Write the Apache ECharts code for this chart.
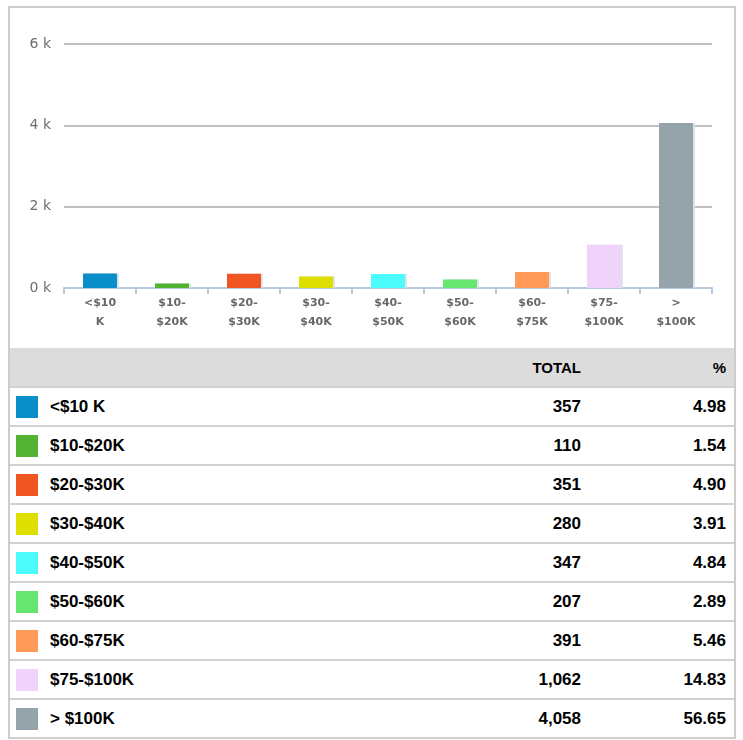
<!DOCTYPE html>
<html>
<head>
<meta charset="utf-8">
<script src="https://cdn.jsdelivr.net/npm/echarts@6/dist/echarts.min.js"></script>
<style>
    body {
        margin: 0;
        background: #ffffff;
    }
    .box {
        position: absolute;
        left: 8px;
        top: 6px;
        width: 724px;
        border: 2px solid #cfcdca;
        border-bottom: none;
    }
    .chart-container {
        width: 724px;
        height: 340px;
    }
    table {
        width: 100%;
        border-collapse: collapse;
        font-family: "Liberation Sans", Arial, sans-serif;
        font-weight: bold;
        font-size: 17px;
        color: #000;
    }
    th, td {
        height: 37px;
        padding: 0;
        border-bottom: 2px solid #d4d1cd;
    }
    thead th {
        background: #dcdcdc;
        font-size: 15px;
        height: 38px;
        border-bottom: 2px solid #d4d1cd;
    }
    .num {
        text-align: right;
    }
    .total {
        width: 160px;
        padding-right: 0;
    }
    .pct {
        width: 145px;
        padding-right: 8px;
    }
    .name {
        text-align: left;
    }
    .swatch {
        display: inline-block;
        width: 22px;
        height: 22px;
        margin: 0 12px 0 6px;
        vertical-align: middle;
    }
    .name span.txt {
        vertical-align: middle;
    }
</style>
</head>
<body>
<div class="box">
    <div class="chart-container" id="chart"></div>
    <table>
        <thead>
            <tr><th></th><th class="num total">TOTAL</th><th class="num pct">%</th></tr>
        </thead>
        <tbody id="rows"></tbody>
    </table>
</div>
<script>
const categories = ['<$10 K', '$10-$20K', '$20-$30K', '$30-$40K', '$40-$50K', '$50-$60K', '$60-$75K', '$75-$100K', '> $100K'];
const axisLabels = ['<$10\nK', '$10-\n$20K', '$20-\n$30K', '$30-\n$40K', '$40-\n$50K', '$50-\n$60K', '$60-\n$75K', '$75-\n$100K', '>\n$100K'];
const totals = [357, 110, 351, 280, 347, 207, 391, 1062, 4058];
const percents = ['4.98', '1.54', '4.90', '3.91', '4.84', '2.89', '5.46', '14.83', '56.65'];
const colors = ['#0a8ec9', '#52b332', '#ef5621', '#dede00', '#4cfcfc', '#66e66e', '#ff9a59', '#efd3fb', '#95a4aa'];
const yTicks = [0, 2000, 4000, 6000];

const rows = document.getElementById('rows');
categories.forEach((name, i) => {
    const tr = document.createElement('tr');
    tr.innerHTML =
        '<td class="name"><span class="swatch" style="background:' + colors[i] + '"></span><span class="txt"></span></td>' +
        '<td class="num total">' + totals[i].toLocaleString('en-US') + '</td>' +
        '<td class="num pct">' + percents[i] + '</td>';
    tr.querySelector('.txt').textContent = name;
    rows.appendChild(tr);
});

const chart = echarts.init(document.getElementById('chart'));
chart.setOption({
    animation: false,
    grid: {
        left: 54,
        right: 22,
        top: 36,
        bottom: 60
    },
    xAxis: {
        type: 'category',
        data: axisLabels,
        axisLine: {
            lineStyle: {
                color: '#b8c9dd',
                width: 2
            }
        },
        axisTick: {
            show: true,
            length: 6,
            lineStyle: {
                color: '#b8c9dd',
                width: 2
            }
        },
        axisLabel: {
            color: '#686868',
            fontSize: 11,
            fontWeight: 'bold',
            fontFamily: 'DejaVu Sans',
            lineHeight: 19,
            margin: 6
        }
    },
    yAxis: {
        type: 'value',
        min: yTicks[0],
        max: yTicks[yTicks.length - 1],
        interval: 2000,
        axisLine: { show: false },
        axisTick: { show: false },
        splitLine: {
            lineStyle: {
                color: '#c0c0c0',
                width: 2
            }
        },
        axisLabel: {
            color: '#6e6e6e',
            fontSize: 14,
            fontFamily: 'DejaVu Sans',
            margin: 13,
            formatter: v => (v / 1000) + ' k'
        }
    },
    series: [
        {
            type: 'bar',
            barWidth: 34,
            data: totals.map((v, i) => ({
                value: v,
                itemStyle: { color: colors[i] }
            })),
            itemStyle: {
                shadowColor: 'rgba(220, 225, 230, 0.9)',
                shadowOffsetX: 2,
                shadowBlur: 0
            }
        }
    ]
});
</script>
</body>
</html>
